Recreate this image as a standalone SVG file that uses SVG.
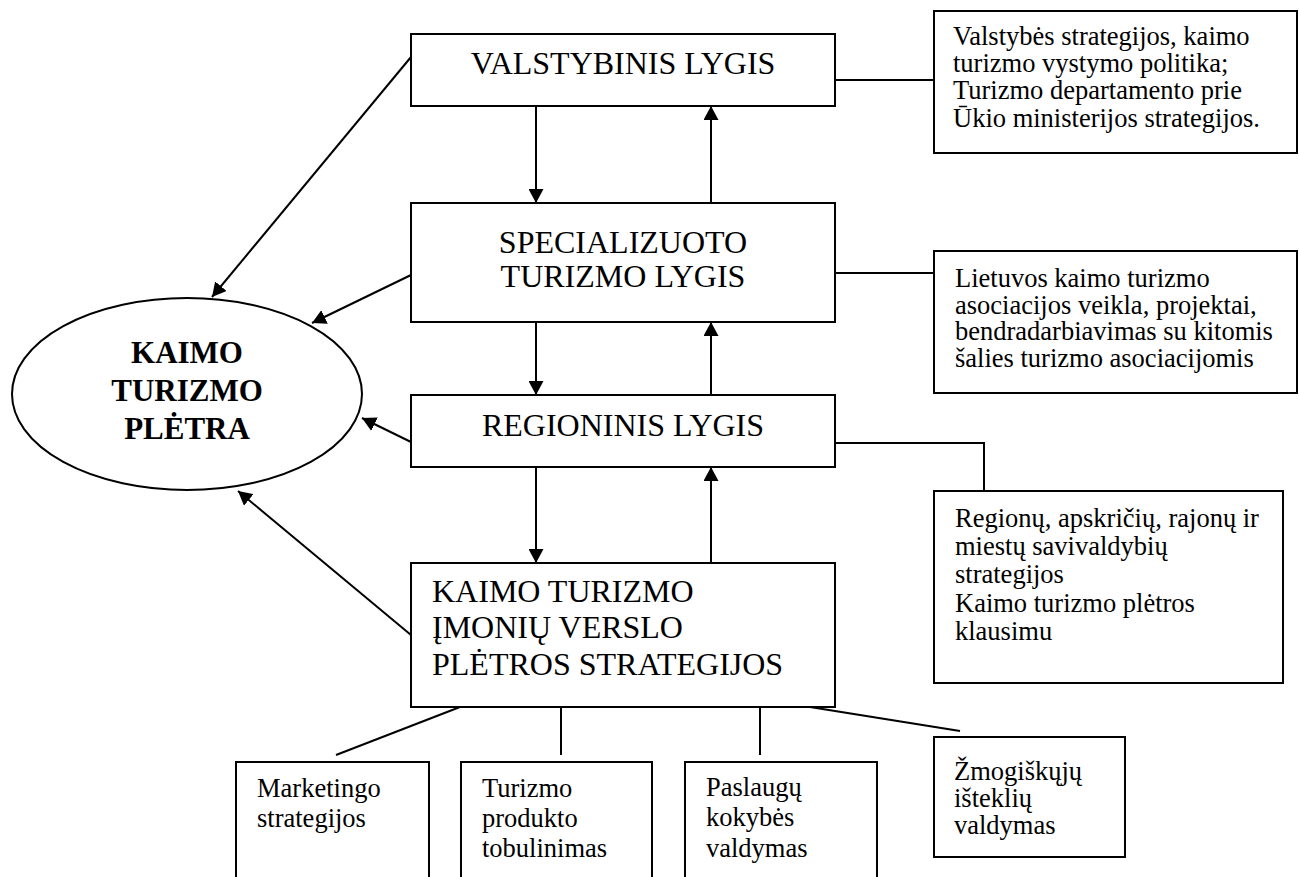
<svg xmlns="http://www.w3.org/2000/svg" width="1299" height="877" viewBox="0 0 1299 877">
<defs>
<marker id="ah" viewBox="0 0 14 15" refX="14" refY="7.5" markerWidth="14" markerHeight="15" markerUnits="userSpaceOnUse" orient="auto">
<path d="M0,0 L14,7.5 L0,15 Z" fill="#000"/>
</marker>
<style>
.box{fill:#fff;stroke:#000;stroke-width:2}
.ln{fill:none;stroke:#000;stroke-width:2}
.arr{fill:none;stroke:#000;stroke-width:2;marker-end:url(#ah)}
.t{font-family:"Liberation Serif","Times New Roman",serif;font-size:32px;fill:#000}
.s{font-family:"Liberation Serif","Times New Roman",serif;font-size:26.5px;fill:#000}
.b{font-family:"Liberation Serif","Times New Roman",serif;font-size:31px;font-weight:bold;fill:#000}
</style>
</defs>
<rect width="1299" height="877" fill="#fff"/>
<g id="connectors">
<line class="arr" x1="536" y1="106" x2="536" y2="203"/>
<line class="arr" x1="711" y1="203" x2="711" y2="106"/>
<line class="arr" x1="536" y1="322" x2="536" y2="395"/>
<line class="arr" x1="711" y1="395" x2="711" y2="322"/>
<line class="arr" x1="536" y1="467" x2="536" y2="563"/>
<line class="arr" x1="711" y1="563" x2="711" y2="467"/>
<line class="arr" x1="411" y1="57" x2="212" y2="297"/>
<line class="arr" x1="411" y1="275" x2="312" y2="323"/>
<line class="arr" x1="411" y1="442" x2="362" y2="418"/>
<line class="arr" x1="411" y1="635" x2="238" y2="491"/>
<line class="ln" x1="835" y1="80" x2="934" y2="80"/>
<line class="ln" x1="835" y1="273" x2="934" y2="273"/>
<polyline class="ln" points="835,443 984,443 984,491"/>
<line class="ln" x1="460" y1="707" x2="336" y2="755"/>
<line class="ln" x1="561" y1="707" x2="561" y2="755"/>
<line class="ln" x1="760" y1="707" x2="760" y2="755"/>
<line class="ln" x1="810" y1="707" x2="960" y2="731"/>
</g>
<g id="valstybinis">
<rect class="box" x="411" y="34" width="424" height="72"/>
<text class="t" x="623" y="74" text-anchor="middle">VALSTYBINIS LYGIS</text>
</g>
<g id="specializuoto">
<rect class="box" x="411" y="203" width="424" height="119"/>
<text class="t" x="623" y="253" text-anchor="middle">SPECIALIZUOTO</text>
<text class="t" x="623" y="287" text-anchor="middle">TURIZMO LYGIS</text>
</g>
<g id="regioninis">
<rect class="box" x="411" y="395" width="424" height="72"/>
<text class="t" x="623" y="436" text-anchor="middle">REGIONINIS LYGIS</text>
</g>
<g id="imoniu">
<rect class="box" x="411" y="563" width="424" height="144"/>
<text class="t" x="432" y="602">KAIMO TURIZMO</text>
<text class="t" x="432" y="638">ĮMONIŲ VERSLO</text>
<text class="t" x="432" y="675">PLĖTROS STRATEGIJOS</text>
</g>
<g id="pletra">
<ellipse class="box" cx="187" cy="394" rx="175" ry="96"/>
<text class="b" x="187" y="363" text-anchor="middle">KAIMO</text>
<text class="b" x="187" y="401" text-anchor="middle">TURIZMO</text>
<text class="b" x="187" y="439" text-anchor="middle">PLĖTRA</text>
</g>
<g id="valstybes">
<rect class="box" x="934" y="11" width="363" height="142"/>
<text class="s" x="953" y="45">Valstybės strategijos, kaimo</text>
<text class="s" x="953" y="72">turizmo vystymo politika;</text>
<text class="s" x="953" y="99">Turizmo departamento prie</text>
<text class="s" x="953" y="127">Ūkio ministerijos strategijos.</text>
</g>
<g id="lietuvos">
<rect class="box" x="934" y="251" width="363" height="142"/>
<text class="s" x="955" y="287">Lietuvos kaimo turizmo</text>
<text class="s" x="955" y="314">asociacijos veikla, projektai,</text>
<text class="s" x="955" y="340">bendradarbiavimas su kitomis</text>
<text class="s" x="955" y="367">šalies turizmo asociacijomis</text>
</g>
<g id="regionu">
<rect class="box" x="934" y="491" width="349" height="192"/>
<text class="s" x="955" y="527">Regionų, apskričių, rajonų ir</text>
<text class="s" x="955" y="555">miestų savivaldybių</text>
<text class="s" x="955" y="583">strategijos</text>
<text class="s" x="955" y="612">Kaimo turizmo plėtros</text>
<text class="s" x="955" y="640">klausimu</text>
</g>
<g id="marketingo">
<rect class="box" x="236" y="762" width="193" height="130"/>
<text class="s" x="257" y="797">Marketingo</text>
<text class="s" x="257" y="827">strategijos</text>
</g>
<g id="produkto">
<rect class="box" x="461" y="762" width="191" height="130"/>
<text class="s" x="482" y="797">Turizmo</text>
<text class="s" x="482" y="827">produkto</text>
<text class="s" x="482" y="857">tobulinimas</text>
</g>
<g id="paslaugu">
<rect class="box" x="685" y="762" width="192" height="130"/>
<text class="s" x="706" y="796">Paslaugų</text>
<text class="s" x="706" y="826">kokybės</text>
<text class="s" x="706" y="857">valdymas</text>
</g>
<g id="zmogiskuju">
<rect class="box" x="934" y="737" width="191" height="120"/>
<text class="s" x="954" y="780">Žmogiškųjų</text>
<text class="s" x="954" y="807">išteklių</text>
<text class="s" x="954" y="834">valdymas</text>
</g>
</svg>
